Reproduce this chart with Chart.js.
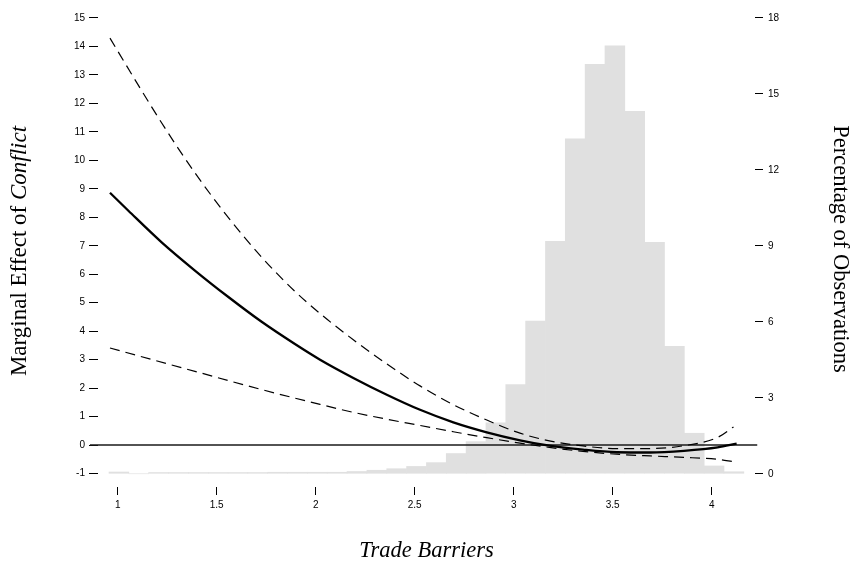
<!DOCTYPE html>
<html>
<head>
<meta charset="utf-8">
<script src="https://cdn.jsdelivr.net/npm/chart.js@4.4.0/dist/chart.umd.min.js"></script>
<style>
html,body{margin:0;padding:0;background:#fff}
#wrap{position:relative;width:851px;height:562px}
</style>
</head>
<body>
<div id="wrap"><canvas id="c"></canvas></div>
<script>
// ---- data ----
const xTicks = [1, 1.5, 2, 2.5, 3, 3.5, 4];
const leftTicks = [-1, 0, 1, 2, 3, 4, 5, 6, 7, 8, 9, 10, 11, 12, 13, 14, 15];
const rightTicks = [0, 3, 6, 9, 12, 15, 18];

// histogram of Trade Barriers (percentage of observations per bin)
const binStart = 0.956;
const binWidth = 0.1002;
const histPct = [0.07, 0, 0.05, 0.05, 0.05, 0.05, 0.05, 0.05, 0.06, 0.06, 0.06, 0.06,
                 0.09, 0.14, 0.2, 0.29, 0.44, 0.8, 1.27, 2.01, 3.52, 6.03, 9.18, 13.23,
                 16.17, 16.9, 14.31, 9.14, 5.03, 1.6, 0.31, 0.08];

// marginal effect of Conflict
const meX = [0.961, 1.054, 1.222, 1.39, 1.559, 1.727, 1.895, 2.022, 2.19, 2.359, 2.527, 2.695, 2.864, 3.032, 3.18, 3.35, 3.52, 3.69, 3.86, 4.03, 4.126];
const meY = [8.86, 8.23, 7.12, 6.13, 5.20, 4.33, 3.55, 3.00, 2.36, 1.77, 1.24, 0.80, 0.45, 0.17, -0.02, -0.16, -0.25, -0.26, -0.2, -0.08, 0.05];

// upper confidence bound
const upX = [0.961, 1.104, 1.239, 1.39, 1.559, 1.727, 1.895, 2.022, 2.19, 2.359, 2.527, 2.695, 2.864, 3.032, 3.18, 3.35, 3.52, 3.69, 3.86, 4.03, 4.11];
const upY = [14.29, 12.64, 11.13, 9.56, 7.99, 6.60, 5.40, 4.62, 3.70, 2.85, 2.08, 1.42, 0.88, 0.42, 0.15, -0.03, -0.12, -0.12, -0.02, 0.27, 0.64];

// lower confidence bound
const lowX = [0.961, 1.39, 1.727, 2.022, 2.19, 2.359, 2.527, 2.695, 2.864, 3.032, 3.18, 3.35, 3.52, 3.69, 3.86, 4.03, 4.11];
const lowY = [3.41, 2.59, 1.95, 1.43, 1.15, 0.91, 0.69, 0.47, 0.26, 0.07, -0.08, -0.22, -0.32, -0.38, -0.43, -0.50, -0.58];

// horizontal reference line at zero
const zeroX = [0.86, 4.23];
const zeroY = [0, 0];

// ---- chart ----
const pts = (xs, ys) => xs.map((x, i) => ({x: x, y: ys[i]}));
const histData = histPct.map((h, k) => ({x: binStart + (k + 0.5) * binWidth, y: h}));

const SANS = "'Liberation Sans', Arial, sans-serif";
const SERIF = "'Liberation Serif', 'Times New Roman', serif";

const leftTitle = {
  id: 'leftTitle',
  afterDraw(chart) {
    const ctx = chart.ctx;
    const a = 'Marginal Effect of ';
    const b = 'Conflict';
    ctx.save();
    ctx.translate(26, 251);
    ctx.rotate(-Math.PI / 2);
    ctx.fillStyle = '#000';
    ctx.textBaseline = 'alphabetic';
    ctx.textAlign = 'left';
    ctx.font = "23px " + SERIF;
    const wa = ctx.measureText(a).width;
    ctx.font = "italic 23px " + SERIF;
    const wb = ctx.measureText(b).width;
    const start = -(wa + wb) / 2;
    ctx.font = "23px " + SERIF;
    ctx.fillText(a, start, 0);
    ctx.font = "italic 23px " + SERIF;
    ctx.fillText(b, start + wa, 0);
    ctx.restore();
  }
};

new Chart(document.getElementById('c'), {
  type: 'line',
  data: {
    datasets: [
      {
        type: 'bar', data: histData, yAxisID: 'y2', order: 10,
        backgroundColor: '#e0e0e0', borderWidth: 0,
        barPercentage: 1, categoryPercentage: 1
      },
      {
        data: pts(zeroX, zeroY), yAxisID: 'y', order: 4, clip: false,
        borderColor: '#1a1a1a', borderWidth: 1.5, pointRadius: 0, fill: false, tension: 0
      },
      {
        data: pts(upX, upY), yAxisID: 'y', order: 3,
        borderColor: '#000', borderWidth: 1.2, borderDash: [10, 6], pointRadius: 0, fill: false,
        cubicInterpolationMode: 'monotone'
      },
      {
        data: pts(lowX, lowY), yAxisID: 'y', order: 3,
        borderColor: '#000', borderWidth: 1.2, borderDash: [10, 6], pointRadius: 0, fill: false,
        cubicInterpolationMode: 'monotone'
      },
      {
        data: pts(meX, meY), yAxisID: 'y', order: 1,
        borderColor: '#000', borderWidth: 2.3, pointRadius: 0, fill: false,
        cubicInterpolationMode: 'monotone'
      }
    ]
  },
  options: {
    responsive: true,
    maintainAspectRatio: false,
    animation: false,
    events: [],
    layout: {padding: {top: 8, left: 0, right: 0, bottom: 0}},
    plugins: {legend: {display: false}, tooltip: {enabled: false}},
    scales: {
      x: {
        type: 'linear', position: 'bottom', min: 0.9005, max: 4.2187, offset: false,
        afterBuildTicks: s => { s.ticks = xTicks.map(v => ({value: v})); },
        afterFit: s => { s.height = 75; },
        ticks: {callback: v => String(v), font: {family: SANS, size: 10}, color: '#000', padding: 4, autoSkip: false, maxRotation: 0},
        grid: {display: true, offset: false, drawOnChartArea: false, drawTicks: true, tickLength: 8, tickColor: '#000', tickWidth: 1},
        border: {display: false},
        title: {display: true, text: 'Trade Barriers', color: '#000', padding: 0,
                font: {family: SERIF, size: 22.5, style: 'italic', lineHeight: 1}}
      },
      y: {
        type: 'linear', position: 'left', min: -1.471, max: 15.244,
        afterBuildTicks: s => { s.ticks = leftTicks.map(v => ({value: v})); },
        afterFit: s => { s.width = 98; },
        ticks: {callback: v => String(v), font: {family: SANS, size: 10}, color: '#000', padding: 4, autoSkip: false},
        grid: {display: true, drawOnChartArea: false, drawTicks: true, tickLength: 9, tickColor: '#000', tickWidth: 1},
        border: {display: false}
      },
      y2: {
        type: 'linear', position: 'right', min: -0.522, max: 18.275,
        afterBuildTicks: s => { s.ticks = rightTicks.map(v => ({value: v})); },
        afterFit: s => { s.width = 96; },
        ticks: {callback: v => String(v), font: {family: SANS, size: 10}, color: '#000', padding: 5, autoSkip: false},
        grid: {display: true, drawOnChartArea: false, drawTicks: true, tickLength: 8, tickColor: '#000', tickWidth: 1},
        border: {display: false},
        title: {display: true, text: 'Percentage of Observations', color: '#000', padding: 0,
                font: {family: SERIF, size: 22.5, lineHeight: 1}}
      }
    }
  },
  plugins: [leftTitle]
});
</script>
</body>
</html>
